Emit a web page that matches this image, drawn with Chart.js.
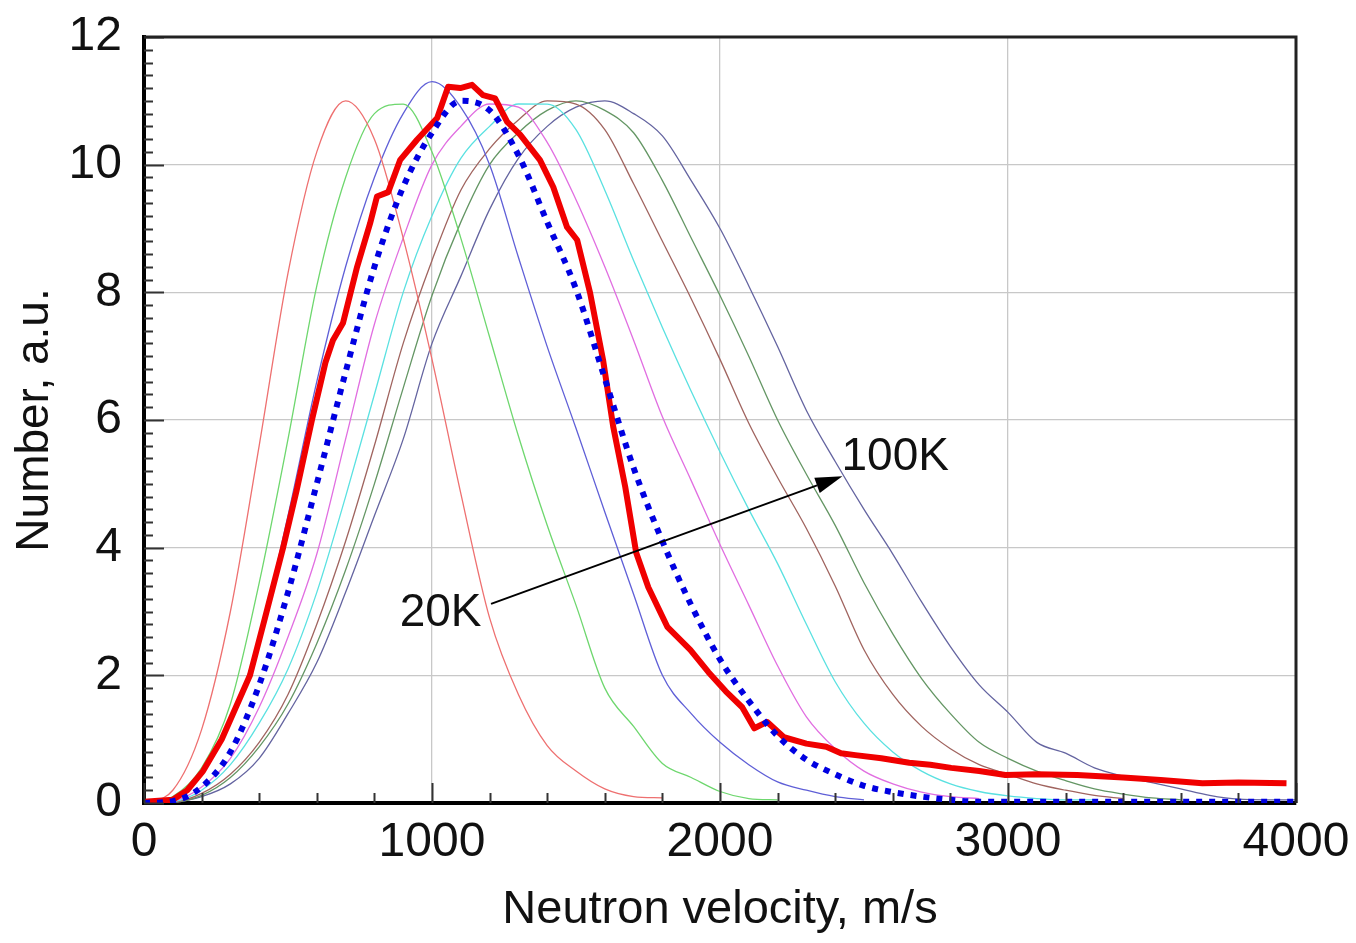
<!DOCTYPE html>
<html>
<head>
<meta charset="utf-8">
<script src="https://cdn.jsdelivr.net/npm/chart.js@4.4.1/dist/chart.umd.min.js"></script>
<style>
  html, body { margin: 0; padding: 0; background: #fff; }
  #wrap { width: 1356px; height: 943px; }
</style>
</head>
<body>
<div id="wrap"><canvas id="chart" width="1356" height="943"></canvas></div>
<script>
// velocity grid for the calculated curves, m/s
const velocity = [0, 100, 200, 300, 400, 500, 600, 700, 800, 900, 1000, 1100, 1200, 1300, 1400, 1500, 1600, 1700, 1800, 1900, 2000,
                  2100, 2200, 2300, 2400, 2500, 2600, 2700, 2800, 2900, 3000, 3100, 3200, 3300, 3400, 3500, 3600, 3700, 3800, 3900, 4000];

// calculated spectra, 20K .. 100K (curves stop where they end in the figure)
const t20K = [0, 0.2, 1.15, 3.0, 5.6, 8.3, 10.2, 11.0, 10.4, 8.85, 6.95, 4.85, 2.9, 1.7, 0.9, 0.5, 0.22, 0.1, 0.08];
const t30K = [0, 0.1, 0.55, 1.55, 3.45, 5.7, 8.1, 9.8, 10.8, 10.95, 10.2, 8.85, 7.3, 5.75, 4.35, 3.1, 1.8, 1.2, 0.62, 0.4, 0.18, 0.07, 0.05];
const t40K = [0, 0.05, 0.45, 1.25, 2.6, 4.5, 6.6, 8.4, 9.8, 10.8, 11.3, 10.9, 10.0, 8.55, 7.15, 5.87, 4.56, 3.27, 2.0, 1.4, 0.95, 0.6, 0.33, 0.2, 0.1, 0.05];
const t60K = [0, 0.03, 0.25, 0.7, 1.5, 2.6, 3.9, 5.7, 7.5, 8.85, 10.0, 10.6, 10.95, 10.9, 10.35, 9.45, 8.4, 7.25, 6.05, 5.05, 4.05, 3.1, 2.15, 1.35, 0.85, 0.5, 0.3, 0.17, 0.1, 0.07];
const t70K = [0, 0.02, 0.2, 0.6, 1.25, 2.1, 3.3, 4.8, 6.4, 8.0, 9.2, 10.1, 10.6, 10.95, 10.95, 10.55, 9.6, 8.5, 7.45, 6.45, 5.5, 4.6, 3.75, 2.8, 1.9, 1.25, 0.8, 0.5, 0.3, 0.18, 0.11, 0.07, 0.05, 0.05];
const t80K = [0, 0.01, 0.15, 0.45, 0.95, 1.7, 2.8, 4.1, 5.6, 7.2, 8.5, 9.6, 10.25, 10.7, 11.0, 10.95, 10.55, 9.7, 8.8, 7.9, 6.95, 5.95, 5.1, 4.3, 3.4, 2.4, 1.7, 1.2, 0.85, 0.6, 0.45, 0.3, 0.2, 0.12, 0.07];
const t90K = [0, 0.01, 0.12, 0.4, 0.88, 1.55, 2.5, 3.65, 5.0, 6.5, 7.95, 9.1, 10.0, 10.5, 10.85, 11.0, 10.85, 10.5, 9.75, 8.85, 7.95, 7.0, 6.0, 5.15, 4.35, 3.45, 2.65, 1.95, 1.4, 0.95, 0.7, 0.5, 0.35, 0.22, 0.14, 0.08, 0.05];
const t100K = [0, 0.01, 0.1, 0.3, 0.7, 1.4, 2.2, 3.3, 4.5, 5.7, 7.2, 8.25, 9.3, 10.1, 10.6, 10.9, 11.0, 10.8, 10.45, 9.75, 9.0,
               8.1, 7.15, 6.15, 5.35, 4.6, 3.9, 3.15, 2.45, 1.85, 1.42, 0.95, 0.78, 0.55, 0.42, 0.32, 0.22, 0.12, 0.06, 0.05, 0.05];

// dotted blue curve
const fitCurve = [0, 0.03, 0.25, 0.8, 1.85, 3.3, 5.0, 6.75, 8.4, 9.65, 10.5, 11.0, 10.85, 10.15, 9.1, 8.05, 6.65, 5.25, 4.1, 3.1, 2.25,
                  1.6, 1.05, 0.68, 0.45, 0.27, 0.17, 0.1, 0.05, 0.02, 0.02, 0.02, 0.02, 0.02, 0.02, 0.02, 0.02, 0.02, 0.02, 0.02, 0.02];

// measured spectrum (thick red), read point by point
const measuredV = [0, 100, 150, 205, 270, 368, 420, 483, 530, 583, 630, 656, 691, 740, 785, 809, 848, 889, 948, 1018, 1056, 1098, 1139,
                   1177, 1219, 1261, 1306, 1375, 1421, 1469, 1504, 1549, 1594, 1629, 1671, 1709, 1751, 1817, 1897, 1960, 2020, 2077,
                   2119, 2164, 2222, 2300, 2369, 2420, 2470, 2560, 2657, 2730, 2803, 2900, 2991, 3100, 3240, 3400, 3530, 3675, 3800, 3967];
const measuredN = [0.02, 0.05, 0.2, 0.5, 1.0, 2.0, 2.9, 4.0, 4.9, 6.0, 6.9, 7.25, 7.52, 8.4, 9.08, 9.5, 9.57, 10.07, 10.39, 10.73, 11.22, 11.2, 11.25,
                   11.09, 11.04, 10.67, 10.47, 10.07, 9.65, 9.02, 8.82, 7.99, 6.94, 5.9, 4.95, 3.92, 3.38, 2.76, 2.4, 2.05, 1.75, 1.5,
                   1.17, 1.27, 1.03, 0.93, 0.88, 0.78, 0.75, 0.7, 0.63, 0.6, 0.55, 0.5, 0.44, 0.45, 0.44, 0.4, 0.36, 0.31, 0.32, 0.31];

const xTicks = [0, 1000, 2000, 3000, 4000];
const yTicks = [0, 2, 4, 6, 8, 10, 12];

const FONT = "'Liberation Sans', Arial, sans-serif";
Chart.defaults.font.family = FONT;
Chart.defaults.color = '#111';

// tick digits in the figure are tall and narrow; use the narrow face when present
function hasFont(name) {
    const c = document.createElement('canvas').getContext('2d');
    c.font = '40px monospace';
    const w1 = c.measureText('Neutron 1000').width;
    c.font = '40px "' + name + '", monospace';
    return c.measureText('Neutron 1000').width !== w1;
}
const narrow = hasFont('Liberation Sans Narrow');
const tickFont = narrow ? { family: "'Liberation Sans Narrow', " + FONT, size: 52 } : { size: 48 };

function pts(arr) {
    return arr.map((n, i) => ({ x: velocity[i], y: n }));
}

function thin(label, data, color) {
    return {
        label: label,
        data: pts(data),
        borderColor: color,
        borderWidth: 1.3,
        pointRadius: 0,
        cubicInterpolationMode: 'monotone',
        order: 3
    };
}

// inner minor ticks, top/right frame, arrow with labels
const decorations = {
    id: 'decorations',
    afterDatasetsDraw(chart) {
        const { ctx, chartArea: a, scales: { x, y } } = chart;
        ctx.save();
        ctx.strokeStyle = '#333';
        ctx.lineWidth = 2;
        for (let i = 0; i <= 60; i++) {
            const p = Math.round(y.getPixelForValue(i * 0.2)) + 0.5;
            const len = i % 10 === 0 ? 20 : 9;
            ctx.beginPath();
            ctx.moveTo(a.left, p);
            ctx.lineTo(a.left + len, p);
            ctx.stroke();
        }
        for (let i = 0; i <= 20; i++) {
            const p = Math.round(x.getPixelForValue(i * 200)) + 0.5;
            const len = i % 5 === 0 ? 20 : 10;
            ctx.beginPath();
            ctx.moveTo(p, a.bottom);
            ctx.lineTo(p, a.bottom - len);
            ctx.stroke();
        }

        // top and right edges of the box
        ctx.strokeStyle = '#222';
        ctx.lineWidth = 3;
        ctx.beginPath();
        ctx.moveTo(a.left, a.top);
        ctx.lineTo(a.right, a.top);
        ctx.lineTo(a.right, a.bottom);
        ctx.stroke();

        // arrow 20K -> 100K
        const x0 = x.getPixelForValue(1205), y0 = y.getPixelForValue(3.12);
        const x1 = x.getPixelForValue(2425), y1 = y.getPixelForValue(5.12);
        const ang = Math.atan2(y1 - y0, x1 - x0);
        const head = 27, half = 8;
        const bx = x1 - head * Math.cos(ang), by = y1 - head * Math.sin(ang);
        ctx.strokeStyle = '#000';
        ctx.lineWidth = 2;
        ctx.beginPath();
        ctx.moveTo(x0, y0);
        ctx.lineTo(bx, by);
        ctx.stroke();
        ctx.fillStyle = '#000';
        ctx.beginPath();
        ctx.moveTo(x1, y1);
        ctx.lineTo(bx + half * Math.sin(ang), by - half * Math.cos(ang));
        ctx.lineTo(bx - half * Math.sin(ang), by + half * Math.cos(ang));
        ctx.closePath();
        ctx.fill();

        ctx.font = '46px ' + FONT;
        ctx.fillStyle = '#111';
        ctx.textBaseline = 'middle';
        ctx.textAlign = 'right';
        ctx.fillText('20K', x.getPixelForValue(1172), y.getPixelForValue(2.97));
        ctx.textAlign = 'left';
        ctx.fillText('100K', x.getPixelForValue(2422), y.getPixelForValue(5.42));
        ctx.restore();
    }
};

new Chart(document.getElementById('chart'), {
    type: 'line',
    data: {
        datasets: [
            thin('20K', t20K, 'rgb(238,112,112)'),
            thin('30K', t30K, 'rgb(110,215,110)'),
            thin('40K', t40K, 'rgb(95,95,215)'),
            thin('60K', t60K, 'rgb(225,110,225)'),
            thin('70K', t70K, 'rgb(90,225,225)'),
            thin('80K', t80K, 'rgb(160,100,95)'),
            thin('90K', t90K, 'rgb(100,150,100)'),
            thin('100K', t100K, 'rgb(100,100,160)'),
            {
                label: 'measured',
                data: measuredV.map((v, i) => ({ x: v, y: measuredN[i] })),
                borderColor: 'rgb(240,0,0)',
                borderWidth: 6,
                pointRadius: 0,
                borderJoinStyle: 'round',
                order: 2
            },
            {
                label: 'fit',
                data: pts(fitCurve),
                borderColor: 'rgb(0,0,225)',
                borderWidth: 6,
                borderDash: [6, 7],
                pointRadius: 0,
                cubicInterpolationMode: 'monotone',
                order: 1
            }
        ]
    },
    options: {
        responsive: false,
        animation: false,
        devicePixelRatio: 1,
        layout: { padding: { top: 37, right: 60, left: 0, bottom: 0 } },
        plugins: {
            legend: { display: false },
            tooltip: { enabled: false }
        },
        scales: {
            x: {
                type: 'linear',
                min: 0,
                max: 4000,
                afterBuildTicks: s => { s.ticks = xTicks.map(v => ({ value: v })); },
                afterFit: s => { s.height = 140; s.paddingLeft = 0; s.paddingRight = 0; },
                ticks: { font: tickFont, color: '#111', padding: 11, maxRotation: 0, callback: v => String(v) },
                grid: { color: '#c8c8c8', lineWidth: 1.3, drawTicks: false },
                border: { color: '#000', width: 4 },
                title: {
                    display: true,
                    text: 'Neutron velocity, m/s',
                    font: { size: 47 },
                    color: '#111',
                    padding: { top: 0, bottom: 5 }
                }
            },
            y: {
                min: 0,
                max: 12,
                afterBuildTicks: s => { s.ticks = yTicks.map(v => ({ value: v })); },
                afterFit: s => { s.width = 144; s.paddingTop = 0; s.paddingBottom = 0; },
                ticks: { font: tickFont, color: '#111', padding: 22, callback: v => String(v) },
                grid: { color: '#c8c8c8', lineWidth: 1.3, drawTicks: false },
                border: { color: '#000', width: 4 },
                title: {
                    display: true,
                    text: 'Number, a.u.',
                    font: { size: 46 },
                    color: '#111',
                    padding: { top: 8, bottom: 0 }
                }
            }
        }
    },
    plugins: [decorations]
});
</script>
</body>
</html>
